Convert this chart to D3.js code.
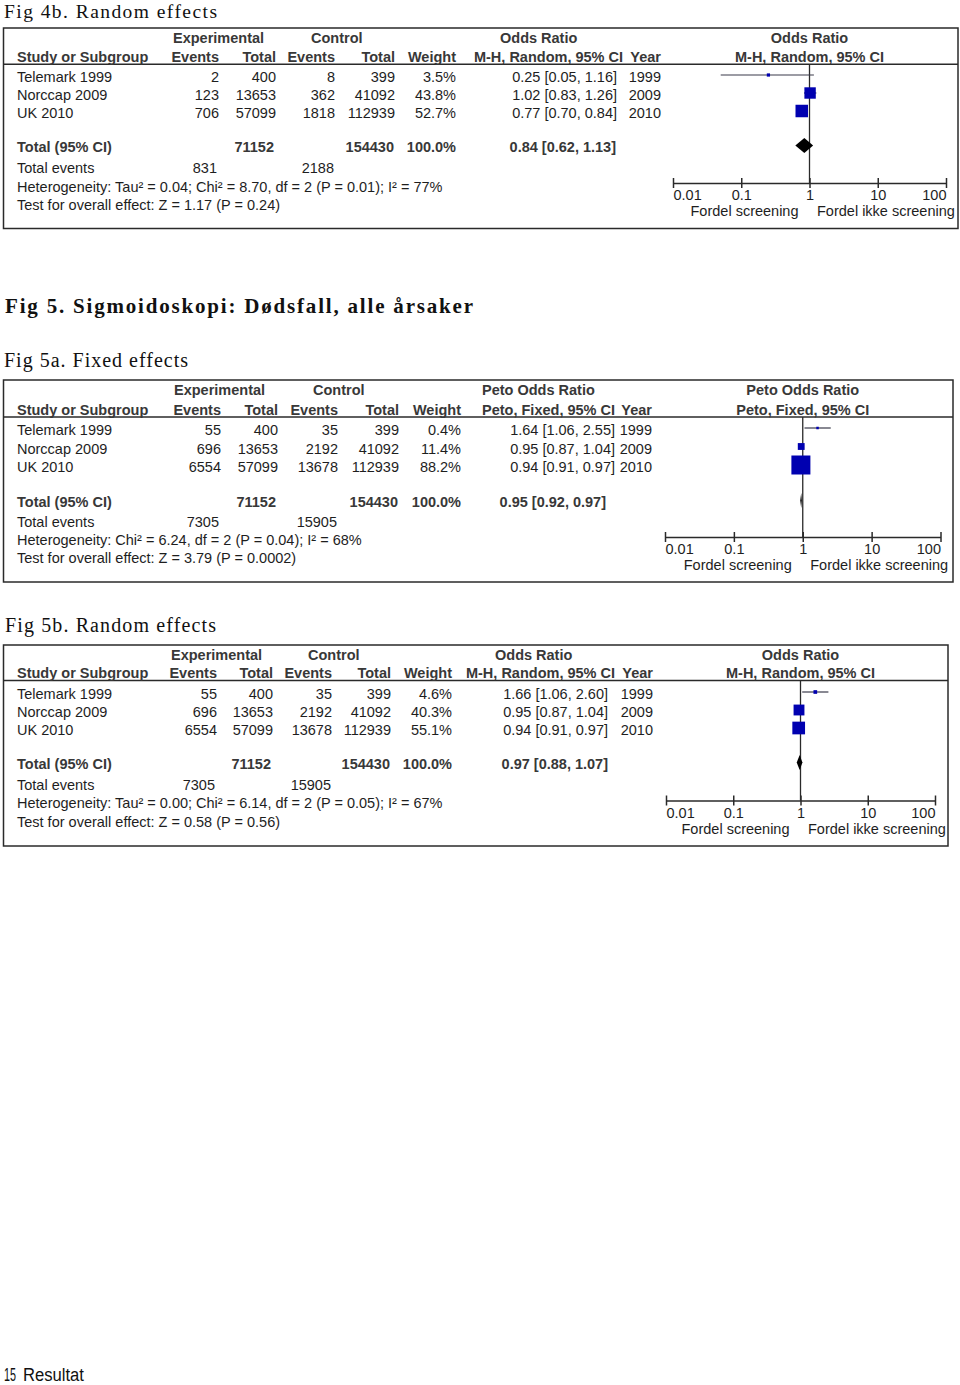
<!DOCTYPE html>
<html><head><meta charset="utf-8">
<script src="https://cdn.jsdelivr.net/npm/d3@7"></script>
<style>
html,body{margin:0;padding:0;background:#fff;}
svg{display:block;}
</style></head><body><svg id="c" width="960" height="1385"></svg>
<script>
// ---------------- DATA ----------------
const studies = ["Telemark 1999", "Norccap 2009", "UK 2010"];
const years = [1999, 2009, 2010];
const tickVals = [0.01, 0.1, 1, 10, 100];
const tickLabels = ["0.01", "0.1", "1", "10", "100"];
const favourLeft = "Fordel screening";
const favourRight = "Fordel ikke screening";

// Fig 4b
const f4b_expEvents = [2, 123, 706];
const f4b_expTotal = [400, 13653, 57099];
const f4b_ctrlEvents = [8, 362, 1818];
const f4b_ctrlTotal = [399, 41092, 112939];
const f4b_weight = [3.5, 43.8, 52.7];
const f4b_or = [0.25, 1.02, 0.77];
const f4b_lo = [0.05, 0.83, 0.70];
const f4b_hi = [1.16, 1.26, 0.84];
const f4b_pooled = [0.84, 0.62, 1.13];
const f4b_het = "Heterogeneity: Tau² = 0.04; Chi² = 8.70, df = 2 (P = 0.01); I² = 77%";
const f4b_test = "Test for overall effect: Z = 1.17 (P = 0.24)";

// Fig 5 (shared counts)
const f5_expEvents = [55, 696, 6554];
const f5_expTotal = [400, 13653, 57099];
const f5_ctrlEvents = [35, 2192, 13678];
const f5_ctrlTotal = [399, 41092, 112939];

// Fig 5a
const f5a_weight = [0.4, 11.4, 88.2];
const f5a_or = [1.64, 0.95, 0.94];
const f5a_lo = [1.06, 0.87, 0.91];
const f5a_hi = [2.55, 1.04, 0.97];
const f5a_pooled = [0.95, 0.92, 0.97];
const f5a_het = "Heterogeneity: Chi² = 6.24, df = 2 (P = 0.04); I² = 68%";
const f5a_test = "Test for overall effect: Z = 3.79 (P = 0.0002)";

// Fig 5b
const f5b_weight = [4.6, 40.3, 55.1];
const f5b_or = [1.66, 0.95, 0.94];
const f5b_lo = [1.06, 0.87, 0.91];
const f5b_hi = [2.60, 1.04, 0.97];
const f5b_pooled = [0.97, 0.88, 1.07];
const f5b_het = "Heterogeneity: Tau² = 0.00; Chi² = 6.14, df = 2 (P = 0.05); I² = 67%";
const f5b_test = "Test for overall effect: Z = 0.58 (P = 0.56)";

// ---------------- DRAWING ----------------
const SANS = "'Liberation Sans', Arial, Helvetica, sans-serif";
const SERIF = "'Liberation Serif', 'Times New Roman', serif";
const FS = 14.5;
const TXT = "#1e1e1e", HDR = "#383838", LINE = "#2a2a2a", BLUE = "#0000b0";
const svg = d3.select("#c");
svg.append("rect").attr("width", 960).attr("height", 1385).attr("fill", "#fff");

function txt(g, x, y, s, anchor, bold, size) {
  return g.append("text").attr("x", x).attr("y", y).text(s)
    .attr("text-anchor", anchor || "start")
    .attr("font-family", SANS).attr("font-size", size || FS)
    .attr("font-weight", bold ? "bold" : "normal")
    .attr("fill", bold ? HDR : TXT);
}
function title(x, y, s, len, bold, size) {
  svg.append("text").attr("x", x).attr("y", y).text(s)
    .attr("font-family", SERIF).attr("font-size", size)
    .attr("font-weight", bold ? "bold" : "normal").attr("fill", "#111")
    .attr("textLength", len).attr("lengthAdjust", "spacing");
}

const fmt2 = d3.format(".2f"), fmt1 = d3.format(".1f");
const ciText = (m, l, h) => `${fmt2(m)} [${fmt2(l)}, ${fmt2(h)}]`;

function drawPanel(p, d) {
  const g = svg.append("g");
  g.append("rect").attr("x", p.left).attr("y", p.top)
    .attr("width", p.right - p.left).attr("height", p.bottom - p.top)
    .attr("fill", "none").attr("stroke", LINE).attr("stroke-width", 1.5);
  g.append("line").attr("x1", p.left).attr("x2", p.right)
    .attr("y1", p.hline).attr("y2", p.hline).attr("stroke", LINE).attr("stroke-width", 1.5);

  const c = p.cols;
  const x = d3.scaleLog().domain([tickVals[0], tickVals[tickVals.length - 1]]).range([p.x0, p.x1]);
  const plotMid = (p.x0 + p.x1) / 2;

  // headers
  txt(g, p.expX, p.h1, "Experimental", "start", true);
  txt(g, p.ctrlX, p.h1, "Control", "start", true);
  txt(g, p.orX, p.h1, p.orTitle, "start", true);
  txt(g, plotMid, p.h1, p.orTitle, "middle", true);
  txt(g, 17, p.h2, "Study or Subgroup", "start", true);
  txt(g, c.ev, p.h2, "Events", "end", true);
  txt(g, c.tot, p.h2, "Total", "end", true);
  txt(g, c.cev, p.h2, "Events", "end", true);
  txt(g, c.ctot, p.h2, "Total", "end", true);
  txt(g, c.w, p.h2, "Weight", "end", true);
  txt(g, p.methodRight, p.h2, p.method, "end", true);
  txt(g, c.year, p.h2, "Year", "end", true);
  txt(g, plotMid, p.h2, p.method, "middle", true);

  // rows
  const y = d3.scalePoint().domain(studies).range([p.rowFirst, p.rowLast]);
  studies.forEach((s, i) => {
    const yy = y(s);
    txt(g, 17, yy, s);
    txt(g, c.ev, yy, d.expEvents[i], "end");
    txt(g, c.tot, yy, d.expTotal[i], "end");
    txt(g, c.cev, yy, d.ctrlEvents[i], "end");
    txt(g, c.ctot, yy, d.ctrlTotal[i], "end");
    txt(g, c.w, yy, fmt1(d.weight[i]) + "%", "end");
    txt(g, c.ci, yy, ciText(d.or[i], d.lo[i], d.hi[i]), "end");
    txt(g, c.year, yy, years[i], "end");
  });

  // totals
  txt(g, 17, p.totY, "Total (95% CI)", "start", true);
  txt(g, c.tot - 2, p.totY, d3.sum(d.expTotal), "end", true);
  txt(g, c.ctot - 1, p.totY, d3.sum(d.ctrlTotal), "end", true);
  txt(g, c.w, p.totY, fmt1(d3.sum(d.weight)) + "%", "end", true);
  txt(g, p.totCI, p.totY, ciText(...d.pooled), "end", true);
  txt(g, 17, p.evY, "Total events");
  txt(g, c.ev - 2, p.evY, d3.sum(d.expEvents), "end");
  txt(g, c.cev - 1, p.evY, d3.sum(d.ctrlEvents), "end");
  txt(g, 17, p.hetY, d.het);
  txt(g, 17, p.testY, d.test);

  // reference line at 1
  g.append("line").attr("x1", x(1)).attr("x2", x(1))
    .attr("y1", p.hline).attr("y2", p.axisY).attr("stroke", LINE).attr("stroke-width", 1.3);

  // CI lines
  const off = 7;
  g.selectAll(".ci").data(studies).join("line")
    .attr("x1", (s, i) => x(d.lo[i])).attr("x2", (s, i) => x(d.hi[i]))
    .attr("y1", s => y(s) - off).attr("y2", s => y(s) - off)
    .attr("stroke", "#3a3a4a").attr("stroke-width", 1.2);
  // squares sized by weight
  const size = d3.scaleSqrt().domain([0, d3.max(d.weight)]).range([0, p.maxSide]);
  const side = i => Math.max(2.5, size(d.weight[i]));
  g.selectAll(".sq").data(studies).join("rect")
    .attr("x", (s, i) => x(d.or[i]) - side(i) / 2)
    .attr("y", (s, i) => y(s) - off - side(i) / 2)
    .attr("width", (s, i) => side(i))
    .attr("height", (s, i) => side(i))
    .attr("fill", BLUE);
  // pooled diamond
  const dy = p.totY - 6.5, dh = 7.5;
  g.append("polygon").attr("points", [
    [x(d.pooled[1]), dy], [x(d.pooled[0]), dy - dh],
    [x(d.pooled[2]), dy], [x(d.pooled[0]), dy + dh]].map(q => q.join(",")).join(" "))
    .attr("fill", "#000");

  // axis
  const n = tickVals.length;
  const ax = g.append("g").attr("transform", `translate(0,${p.axisY})`)
    .call(d3.axisBottom(x).tickValues(tickVals).tickFormat((v, i) => tickLabels[i])
      .tickSizeInner(5).tickSizeOuter(0));
  ax.attr("font-family", SANS).attr("font-size", FS);
  ax.select(".domain").attr("stroke", LINE).attr("stroke-width", 1.5);
  ax.selectAll(".tick line").attr("y1", -5).attr("y2", 5).attr("stroke", LINE).attr("stroke-width", 1.5);
  ax.selectAll(".tick text").attr("y", 17).attr("dy", null).attr("fill", TXT)
    .attr("text-anchor", (v, i) => i === 0 ? "start" : (i === n - 1 ? "end" : "middle"));
  txt(g, x(1) - 11, p.axisY + 33, favourLeft, "end");
  txt(g, x(1) + 7.5, p.axisY + 33, favourRight, "start");
}

// Titles
title(4, 17.5, "Fig 4b. Random effects", 213, false, 19.5);
title(5, 313, "Fig 5. Sigmoidoskopi: Dødsfall, alle årsaker", 468, true, 21);
title(4, 367, "Fig 5a. Fixed effects", 184, false, 20);
title(5, 632, "Fig 5b. Random effects", 211, false, 20);

drawPanel({
  left: 3.5, right: 958, top: 28, bottom: 228.5, hline: 64.3,
  h1: 43, h2: 62, rowFirst: 82, rowLast: 118, totY: 152, evY: 173, hetY: 192, testY: 210,
  axisY: 183, x0: 673, x1: 946, maxSide: 12.5,
  expX: 173, ctrlX: 311, orX: 500, orTitle: "Odds Ratio", method: "M-H, Random, 95% CI", methodRight: 623,
  totCI: 616,
  cols: { ev: 219, tot: 276, cev: 335, ctot: 395, w: 456, ci: 617, year: 661 }
}, { expEvents: f4b_expEvents, expTotal: f4b_expTotal, ctrlEvents: f4b_ctrlEvents, ctrlTotal: f4b_ctrlTotal,
     weight: f4b_weight, or: f4b_or, lo: f4b_lo, hi: f4b_hi, pooled: f4b_pooled, het: f4b_het, test: f4b_test });

drawPanel({
  left: 3.5, right: 953, top: 380, bottom: 582, hline: 417,
  h1: 395, h2: 415, rowFirst: 435, rowLast: 472, totY: 507, evY: 527, hetY: 545, testY: 563,
  axisY: 537, x0: 665, x1: 940.5, maxSide: 19,
  expX: 174, ctrlX: 313, orX: 482, orTitle: "Peto Odds Ratio", method: "Peto, Fixed, 95% CI", methodRight: 615,
  totCI: 606,
  cols: { ev: 221, tot: 278, cev: 338, ctot: 399, w: 461, ci: 615, year: 652 }
}, { expEvents: f5_expEvents, expTotal: f5_expTotal, ctrlEvents: f5_ctrlEvents, ctrlTotal: f5_ctrlTotal,
     weight: f5a_weight, or: f5a_or, lo: f5a_lo, hi: f5a_hi, pooled: f5a_pooled, het: f5a_het, test: f5a_test });

drawPanel({
  left: 3.5, right: 948, top: 645, bottom: 846, hline: 680.5,
  h1: 660, h2: 678, rowFirst: 699, rowLast: 735, totY: 769, evY: 790, hetY: 808, testY: 827,
  axisY: 800.5, x0: 666, x1: 935, maxSide: 12.7,
  expX: 171, ctrlX: 308, orX: 495, orTitle: "Odds Ratio", method: "M-H, Random, 95% CI", methodRight: 615,
  totCI: 608,
  cols: { ev: 217, tot: 273, cev: 332, ctot: 391, w: 452, ci: 608, year: 653 }
}, { expEvents: f5_expEvents, expTotal: f5_expTotal, ctrlEvents: f5_ctrlEvents, ctrlTotal: f5_ctrlTotal,
     weight: f5b_weight, or: f5b_or, lo: f5b_lo, hi: f5b_hi, pooled: f5b_pooled, het: f5b_het, test: f5b_test });

// footer
svg.append("text").attr("x", 4).attr("y", 1381).text("15")
  .attr("font-family", SANS).attr("font-size", 18).attr("fill", "#111")
  .attr("textLength", 12).attr("lengthAdjust", "spacingAndGlyphs");
svg.append("text").attr("x", 23).attr("y", 1381).text("Resultat")
  .attr("font-family", SANS).attr("font-size", 18).attr("fill", "#111")
  .attr("textLength", 61).attr("lengthAdjust", "spacingAndGlyphs");
</script></body></html>
